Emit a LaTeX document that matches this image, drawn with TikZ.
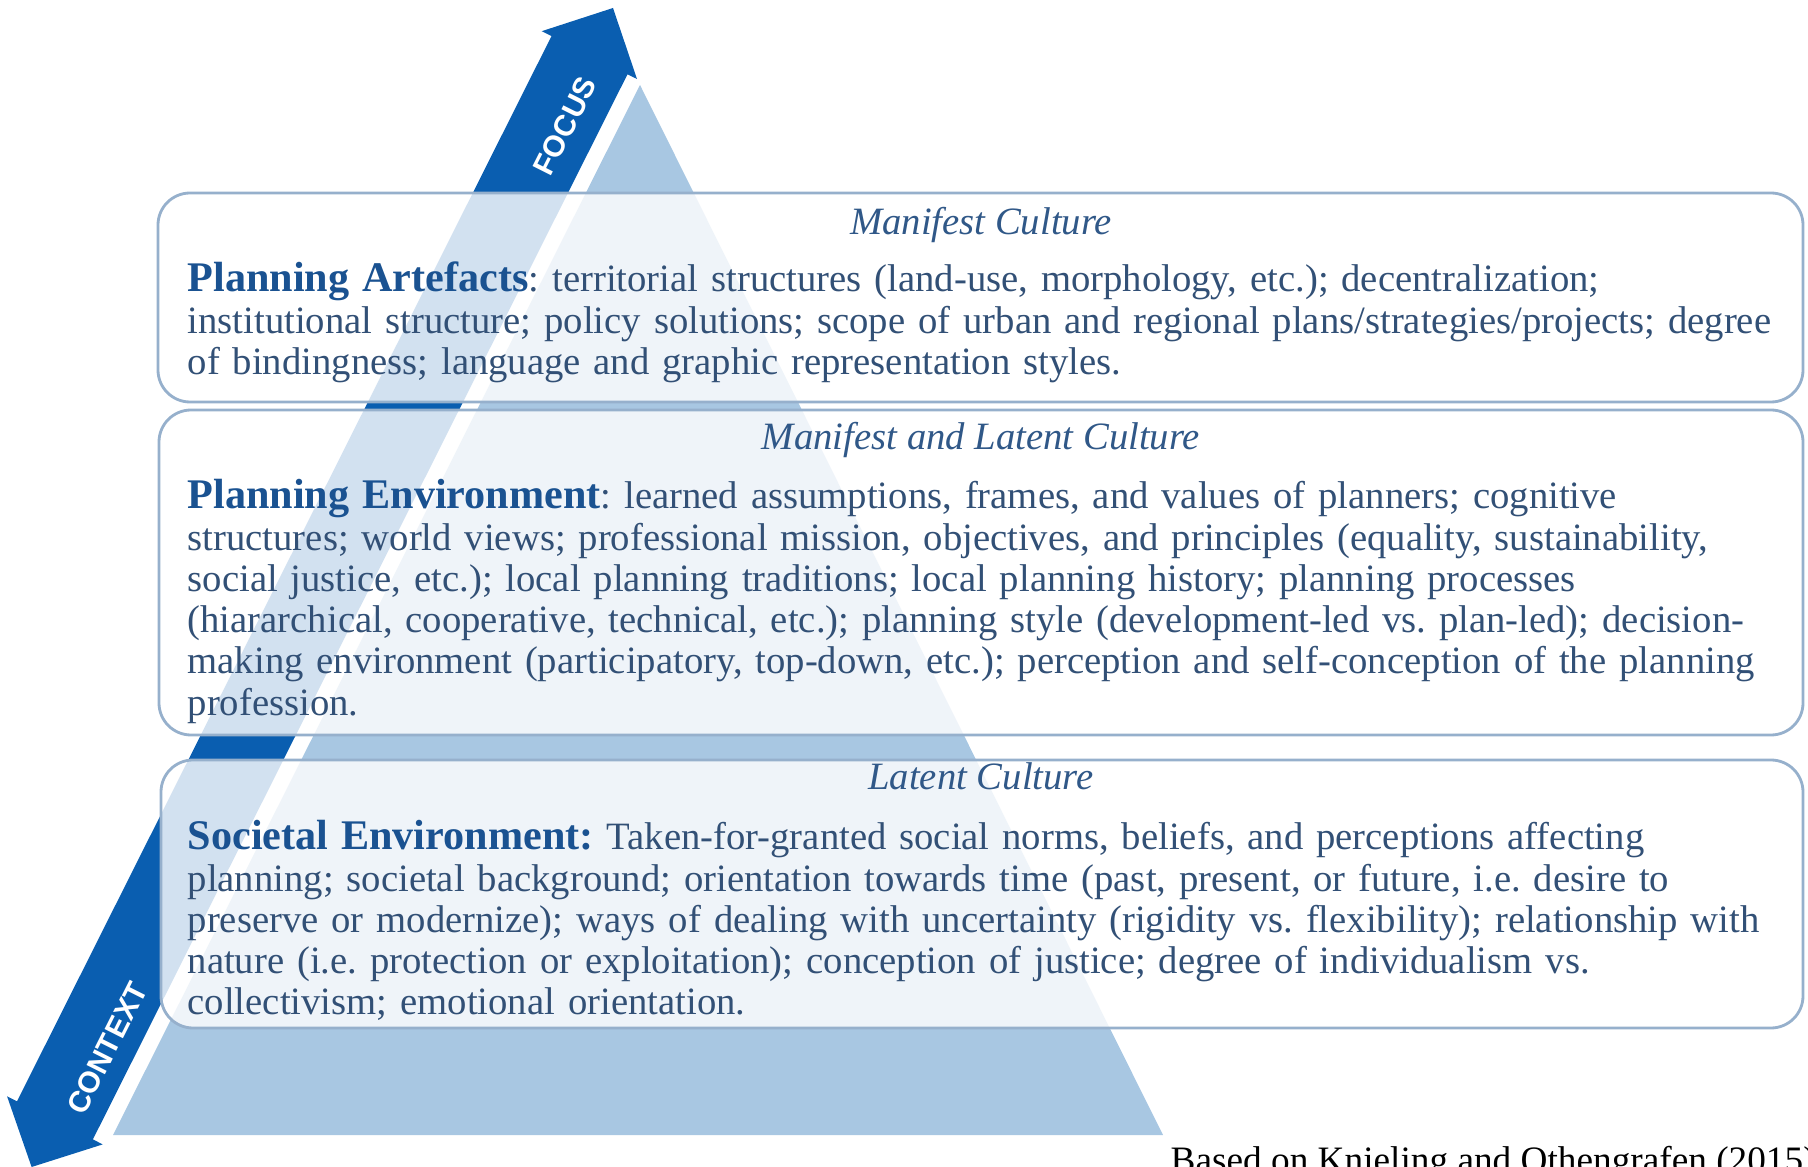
\documentclass[tikz,border=0pt]{standalone}
\usepackage{fontspec}
\setmainfont{Liberation Serif}
\setsansfont{Liberation Sans}
\frenchspacing

\definecolor{bandblue}{RGB}{10,94,176}
\definecolor{pyramidblue}{RGB}{168,199,226}
\definecolor{boxline}{RGB}{150,176,204}
\definecolor{textblue}{RGB}{50,80,118}
\definecolor{headblue}{RGB}{26,82,145}
\definecolor{titleblue}{RGB}{48,88,136}

\tikzset{every picture/.append style={x=0.01cm, y=-0.01cm}}
\tikzset{
  culturebox/.style={draw=boxline, line width=0.8pt, fill=white, fill opacity=0.82, rounded corners=0.32cm},
  culturetitle/.style={font=\fontsize{11}{13}\selectfont\itshape, text=titleblue, anchor=base, inner sep=0},
  culturetext/.style={font=\fontsize{11}{11.72}\selectfont, text=textblue, anchor=base west,
    inner sep=0, text width=16.2cm, align=left},
  arrowtext/.style={font=\sffamily\bfseries\fontsize{8.5}{10}\selectfont, text=white, rotate=63.3}
}
\newcommand{\hd}[1]{\textcolor{headblue}{\fontsize{12}{11.72}\selectfont\bfseries #1}}

\begin{document}
\begin{tikzpicture}
  \useasboundingbox (0,0) rectangle (1808,1167);
  % pyramid and the focus/context band
  \fill[pyramidblue] (640,85) -- (1163,1135) -- (113,1135) -- cycle;
  \fill[bandblue] (613,8) -- (637,79) -- (627.5,74.3) -- (92.9,1139.4) -- (102.7,1144.4)
    -- (31.6,1167) -- (7.1,1096.4) -- (17,1101.3) -- (551.5,36.1) -- (541.7,31.2) -- cycle;
  \node[arrowtext] (focus) at (565,126) {FOCUS};
  \node[arrowtext] (context) at (107,1048) {CONTEXT};

  % the three layers
  \draw[culturebox] (158,193) rectangle (1803,402);
  \draw[culturebox] (159,410) rectangle (1803,735);
  \draw[culturebox] (161,760) rectangle (1803,1028);

  \node[culturetitle] (manifest) at (981,235) {Manifest Culture};
  \node[culturetext] (artefacts) at (187,292) {\hd{Planning Artefacts}: territorial structures (land-use, morphology, etc.); decentralization;\\
    institutional structure; policy solutions; scope of urban and regional plans/strategies/projects; degree\\
    of bindingness; language and graphic representation styles.};

  \node[culturetitle] (manlat) at (981,450) {Manifest and Latent Culture};
  \node[culturetext] (planenv) at (187,509) {\hd{Planning Environment}: learned assumptions, frames, and values of planners; cognitive\\
    structures; world views; professional mission, objectives, and principles (equality, sustainability,\\
    social justice, etc.); local planning traditions; local planning history; planning processes\\
    (hiararchical, cooperative, technical, etc.); planning style (development-led vs. plan-led); decision-\\
    making environment (participatory, top-down, etc.); perception and self-conception of the planning\\
    profession.};

  \node[culturetitle] (latent) at (981,790) {Latent Culture};
  \node[culturetext] (socenv) at (187,850) {\hd{Societal Environment:} Taken-for-granted social norms, beliefs, and perceptions affecting\\
    planning; societal background; orientation towards time (past, present, or future, i.e. desire to\\
    preserve or modernize); ways of dealing with uncertainty (rigidity vs. flexibility); relationship with\\
    nature (i.e. protection or exploitation); conception of justice; degree of individualism vs.\\
    collectivism; emotional orientation.};

  \node[anchor=base west, inner sep=0, font=\fontsize{10.6}{13}\selectfont] (source) at (1170,1172)
    {Based on Knieling and Othengrafen (2015)};
\end{tikzpicture}
\end{document}
